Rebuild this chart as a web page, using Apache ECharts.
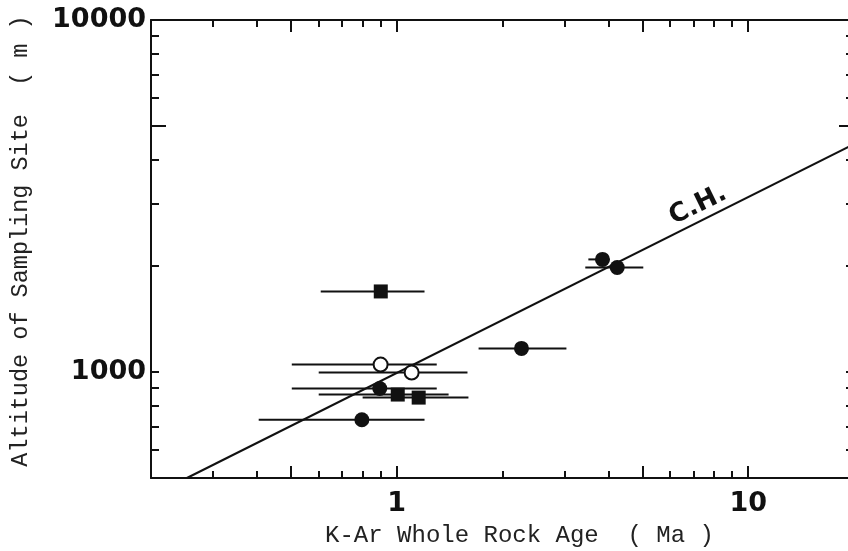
<!DOCTYPE html>
<html>
<head>
<meta charset="utf-8">
<script src="https://cdn.jsdelivr.net/npm/echarts@6/dist/echarts.min.js"></script>
<style>
  html, body { margin: 0; background: #fff; }
  #chart { width: 848px; height: 551px; }
</style>
</head>
<body>
<div id="chart"></div>
<script>
// tick positions (log axes)
const xMajorTicks = [0.5, 1, 5, 10];
const xMinorTicks = [0.3, 0.4, 0.6, 0.7, 0.8, 0.9, 2, 3, 4, 6, 7, 8, 9];
const xTickLabels = [1, 10];
const yMajorTicks = [5000];
const yMinorTicks = [600, 700, 800, 900, 1000, 2000, 3000, 4000, 6000, 7000, 8000, 9000];
const yTickLabels = [1000, 10000];

// filled circles
const circleAge = [0.895, 0.796, 2.265, 3.85, 4.24];
const circleAlt = [898, 732, 1167, 2089, 1982];
const circleAgeLo = [0.503, 0.405, 1.71, 3.51, 3.44];
const circleAgeHi = [1.30, 1.20, 3.04, 4.03, 5.03];

// open circles
const openAge = [0.90, 1.103];
const openAlt = [1050, 997];
const openAgeLo = [0.503, 0.600];
const openAgeHi = [1.30, 1.59];

// filled squares
const squareAge = [0.901, 1.007, 1.155];
const squareAlt = [1694, 863, 846];
const squareAgeLo = [0.608, 0.600, 0.80];
const squareAgeHi = [1.20, 1.405, 1.60];

// C.H. line
const chAge = [0.253, 20];
const chAlt = [500, 4440];

const ink = '#111';
const labelFont = { color: ink, fontFamily: 'DejaVu Sans', fontWeight: 'bold', fontSize: 27 };
const nameFont = { color: '#222', fontFamily: 'Liberation Mono' };

const chart = echarts.init(document.getElementById('chart'));

function logAxis(min, max, position, ticks, len, opts) {
    return Object.assign({
        type: 'log',
        min: min,
        max: max,
        position: position,
        axisLine: { show: false },
        axisTick: { show: true, inside: true, length: len, customValues: ticks, lineStyle: { color: ink, width: 2 } },
        axisLabel: { show: false },
        splitLine: { show: false }
    }, opts || {});
}

const lineOn = { show: true, lineStyle: { color: ink, width: 2 } };

function errorBars(lo, hi, alt) {
    return {
        type: 'custom',
        data: alt.map((a, i) => [lo[i], hi[i], a]),
        encode: { x: [0, 1], y: 2 },
        z: 2,
        renderItem: (params, api) => {
            const p0 = api.coord([api.value(0), api.value(2)]);
            const p1 = api.coord([api.value(1), api.value(2)]);
            return {
                type: 'line',
                shape: { x1: p0[0], y1: p0[1], x2: p1[0], y2: p1[1] },
                style: { stroke: ink, lineWidth: 2 }
            };
        }
    };
}

const option = {
    animation: false,
    backgroundColor: '#fff',
    // plot runs a few px past the right edge, like the cropped scan
    grid: { left: 151, top: 20, width: 703, height: 458, outerBoundsMode: 'none', containLabel: false },
    xAxis: [
        logAxis(0.2, 20, 'bottom', xMajorTicks, 12, {
            axisLine: lineOn,
            axisLabel: {
                show: true, customValues: xTickLabels, margin: 12,
                formatter: v => String(Math.round(v)), ...labelFont
            },
            name: 'K-Ar Whole Rock Age  ( Ma )',
            nameLocation: 'middle',
            nameGap: 46,
            nameTextStyle: { ...nameFont, fontSize: 24, padding: [0, 0, 0, 34] }
        }),
        logAxis(0.2, 20, 'bottom', xMinorTicks, 7),
        logAxis(0.2, 20, 'top', xMajorTicks, 12, { axisLine: lineOn }),
        logAxis(0.2, 20, 'top', xMinorTicks, 7)
    ],
    yAxis: [
        logAxis(500, 10000, 'left', yMajorTicks, 15, {
            axisLine: lineOn,
            axisLabel: {
                show: true, customValues: yTickLabels, margin: 5,
                formatter: v => String(Math.round(v)), ...labelFont
            },
            name: 'Altitude of Sampling Site  ( m )',
            nameLocation: 'middle',
            nameGap: 118,
            nameTextStyle: { ...nameFont, fontSize: 23.5, padding: [0, 0, 0, 16] }
        }),
        logAxis(500, 10000, 'left', yMinorTicks, 8),
        logAxis(500, 10000, 'right', yMajorTicks, 15, { axisLine: lineOn }),
        logAxis(500, 10000, 'right', yMinorTicks, 8)
    ],
    series: [
        {
            type: 'line',
            data: chAge.map((a, i) => [a, chAlt[i]]),
            symbol: 'none',
            lineStyle: { color: ink, width: 2 },
            z: 1,
            markPoint: {
                symbol: 'circle',
                symbolSize: 0,
                data: [{ coord: [7.2, 2977] }],
                label: {
                    show: true, formatter: 'C.H.', rotate: 26, position: 'inside',
                    color: ink, fontFamily: 'DejaVu Sans', fontWeight: 'bold', fontSize: 26
                }
            }
        },
        errorBars(circleAgeLo, circleAgeHi, circleAlt),
        errorBars(openAgeLo, openAgeHi, openAlt),
        errorBars(squareAgeLo, squareAgeHi, squareAlt),
        {
            type: 'scatter',
            data: circleAge.map((a, i) => [a, circleAlt[i]]),
            symbol: 'circle', symbolSize: 15,
            itemStyle: { color: ink, opacity: 1 },
            z: 5
        },
        {
            type: 'scatter',
            data: openAge.map((a, i) => [a, openAlt[i]]),
            symbol: 'circle', symbolSize: 14,
            itemStyle: { color: '#fff', borderColor: ink, borderWidth: 2, opacity: 1 },
            z: 5
        },
        {
            type: 'scatter',
            data: squareAge.map((a, i) => [a, squareAlt[i]]),
            symbol: 'rect', symbolSize: 14,
            itemStyle: { color: ink, opacity: 1 },
            z: 5
        }
    ]
};

chart.setOption(option);
window.addEventListener('resize', () => chart.resize());
</script>
</body>
</html>
